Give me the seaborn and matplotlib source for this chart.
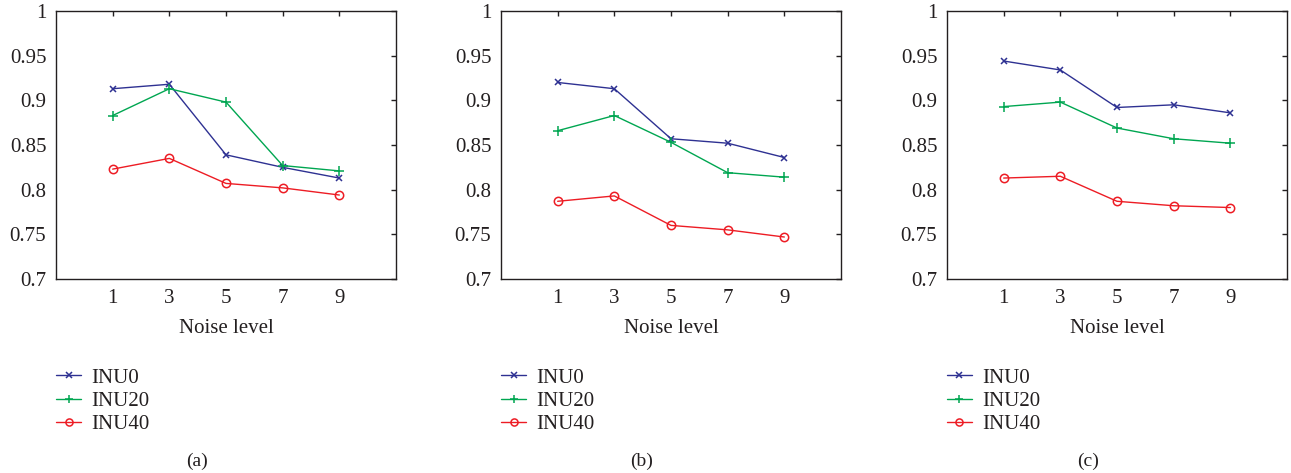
import numpy as np
import pandas as pd
import matplotlib
matplotlib.use("Agg")
import matplotlib.pyplot as plt
import seaborn as sns
from matplotlib.lines import Line2D

sns.set_theme(style="white")
plt.rcParams['font.family'] = ['Liberation Serif', 'DejaVu Serif']

noise_levels = [1, 3, 5, 7, 9]
series_names = ["INU0", "INU20", "INU40"]
panel_labels = ["(a)", "(b)", "(c)"]

a_inu0 = [0.913, 0.918, 0.839, 0.825, 0.813]
a_inu20 = [0.883, 0.913, 0.898, 0.827, 0.821]
a_inu40 = [0.823, 0.835, 0.807, 0.802, 0.794]

b_inu0 = [0.920, 0.913, 0.857, 0.852, 0.836]
b_inu20 = [0.866, 0.883, 0.853, 0.819, 0.814]
b_inu40 = [0.787, 0.793, 0.760, 0.755, 0.747]

c_inu0 = [0.944, 0.934, 0.892, 0.895, 0.886]
c_inu20 = [0.893, 0.898, 0.869, 0.857, 0.852]
c_inu40 = [0.813, 0.815, 0.787, 0.782, 0.780]

y_ticks = [0.7, 0.75, 0.8, 0.85, 0.9, 0.95, 1]
y_tick_labels = ["0.7", "0.75", "0.8", "0.85", "0.9", "0.95", "1"]

panels = [
    [a_inu0, a_inu20, a_inu40],
    [b_inu0, b_inu20, b_inu40],
    [c_inu0, c_inu20, c_inu40],
]

colors = {"INU0": "#2E3192", "INU20": "#00A651", "INU40": "#ED1C24"}
markers = {"INU0": "x", "INU20": "+", "INU40": "o"}
msizes = {"INU0": 4.5, "INU20": 7, "INU40": 6}

W, H = 1291, 473
fig = plt.figure(figsize=(W / 100, H / 100), dpi=100)

lefts = [56, 501, 947]
ax_w, ax_top, ax_bot = 340, 11, 279
fs = 15

for i, (vals, left) in enumerate(zip(panels, lefts)):
    ax = fig.add_axes([left / W, 1 - ax_bot / H, ax_w / W, (ax_bot - ax_top) / H])
    df = pd.DataFrame({
        "Noise level": noise_levels * 3,
        "value": [v for s in vals for v in s],
        "series": [n for n in series_names for _ in noise_levels],
    })
    for name in series_names:
        sub = df[df["series"] == name]
        sns.lineplot(data=sub, x="Noise level", y="value", ax=ax,
                     color=colors[name], marker=markers[name],
                     markersize=msizes[name], linewidth=1.0,
                     markerfacecolor="none" if name == "INU40" else colors[name],
                     markeredgecolor=colors[name], markeredgewidth=1.1,
                     label=name, legend=False)
    ax.set_xlim(-1, 11)
    ax.set_ylim(0.7, 1.0)
    ax.set_xticks(noise_levels)
    ax.set_xticklabels([str(n) for n in noise_levels], fontsize=fs)
    ax.set_yticks(y_ticks)
    ax.set_yticklabels(y_tick_labels, fontsize=fs)
    ax.set_xlabel("Noise level", fontsize=fs, labelpad=8, color="#231F20")
    ax.set_ylabel("")
    ax.tick_params(direction="in", length=3.5, width=1, top=True, right=True,
                   colors="#231F20", labelcolor="#231F20", pad=7)
    for sp in ax.spines.values():
        sp.set_color("#231F20")
        sp.set_linewidth(1.0)
        sp.set_visible(True)

    handles = [Line2D([0], [0], color=colors[n], marker=markers[n],
                      markersize=msizes[n] * 0.85,
                      markerfacecolor="none" if n == "INU40" else colors[n],
                      markeredgecolor=colors[n], markeredgewidth=1.1, linewidth=1.0)
               for n in series_names]
    fig.legend(handles, series_names, loc="upper left",
               bbox_to_anchor=(left / W, 1 - 368 / H),
               frameon=False, fontsize=fs, handlelength=1.2, handletextpad=0.5,
               labelspacing=0.18, borderpad=0, borderaxespad=0,
               labelcolor="#231F20")
    fig.text((left + 141) / W, 1 - 461 / H, panel_labels[i], fontsize=fs - 1,
             ha="center", va="center", color="#231F20")

fig.savefig("out.png", dpi=100)
